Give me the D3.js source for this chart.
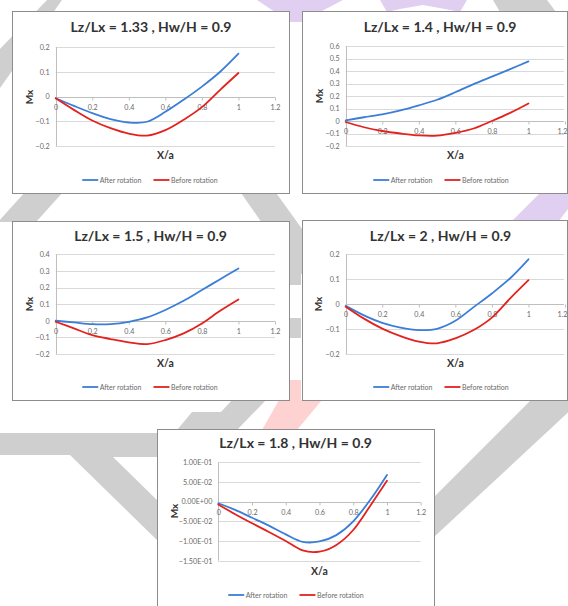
<!DOCTYPE html>
<html>
<head>
<meta charset="utf-8">
<script src="https://cdn.jsdelivr.net/npm/d3@7"></script>
<style>
  html, body { margin: 0; padding: 0; background: #ffffff; }
  svg { display: block; }
  text { font-family: "Lato", "Open Sans", sans-serif; }
</style>
</head>
<body>
<svg id="fig" width="568" height="606"></svg>
<script>
// ---- data -------------------------------------------------------------
const X_POS = [0, 0.1, 0.2, 0.3, 0.4, 0.5, 0.6, 0.7, 0.8, 0.9, 1.0];
const X_TICKS = [0, 0.2, 0.4, 0.6, 0.8, 1, 1.2];
const SERIES_NAMES = ["After rotation", "Before rotation"];

const TITLES = [
  "Lz/Lx = 1.33 , Hw/H = 0.9",
  "Lz/Lx = 1.4 , Hw/H = 0.9",
  "Lz/Lx = 1.5 , Hw/H = 0.9",
  "Lz/Lx = 2 , Hw/H = 0.9",
  "Lz/Lx = 1.8 , Hw/H = 0.9"
];

const AFTER_133  = [-0.007, -0.038, -0.067, -0.091, -0.105, -0.102, -0.062, -0.013, 0.040, 0.100, 0.173];
const BEFORE_133 = [-0.007, -0.054, -0.097, -0.128, -0.150, -0.158, -0.136, -0.094, -0.043, 0.027, 0.095];

const AFTER_14   = [0.005, 0.030, 0.053, 0.085, 0.125, 0.170, 0.230, 0.295, 0.355, 0.415, 0.477];
const BEFORE_14  = [-0.008, -0.050, -0.080, -0.100, -0.115, -0.117, -0.095, -0.060, 0.000, 0.065, 0.140];

const AFTER_15   = [0.000, -0.010, -0.020, -0.020, -0.006, 0.020, 0.065, 0.120, 0.185, 0.250, 0.315];
const BEFORE_15  = [-0.006, -0.046, -0.086, -0.110, -0.130, -0.140, -0.116, -0.076, -0.016, 0.060, 0.128];

const AFTER_2    = [-0.007, -0.045, -0.075, -0.094, -0.104, -0.099, -0.067, -0.012, 0.043, 0.104, 0.180];
const BEFORE_2   = [-0.010, -0.058, -0.098, -0.128, -0.150, -0.157, -0.137, -0.104, -0.054, 0.023, 0.096];

const AFTER_18   = [-0.004, -0.021, -0.041, -0.061, -0.083, -0.102, -0.101, -0.085, -0.050, 0.004, 0.068];
const BEFORE_18  = [-0.007, -0.032, -0.055, -0.077, -0.100, -0.124, -0.127, -0.110, -0.072, -0.011, 0.053];

const Y_TICKS_133 = [-0.2, -0.1, 0, 0.1, 0.2];
const Y_TICKS_14  = [-0.2, -0.1, 0, 0.1, 0.2, 0.3, 0.4, 0.5, 0.6];
const Y_TICKS_15  = [-0.2, -0.1, 0, 0.1, 0.2, 0.3, 0.4];
const Y_TICKS_2   = [-0.2, -0.1, 0, 0.1, 0.2];
const Y_TICKS_18  = [-0.15, -0.10, -0.05, 0, 0.05, 0.10];

// ---- styles -----------------------------------------------------------
const COLORS = ["#3a7ed8", "#e3221d"];
const GRID = "#d9d9d9";
const AXIS = "#bfbfbf";
const TICK_TXT = "#6a6a6a";
const TITLE_TXT = "#333333";
const W = 568;

const svg = d3.select("#fig");

// ---- background decoration (light diagonal bands) ---------------------
const deco = svg.append("g");
const grayBands = [
  [[0,49],[47,0],[62,0],[0,88]],
  [[-2,222],[36,222],[64,191],[26,191]],
  [[239,190],[274,190],[310,240],[310,282],[289,262]],
  [[289,262],[301,262],[301,285],[289,285]],
  [[289,318],[301,318],[301,338],[289,338]],
  [[232,400],[266,400],[237,430],[177,430],[192,412],[221,412]],
  [[0,433],[160,433],[160,457],[113,457],[160,503],[160,543],[70,455],[0,455]],
  [[434,497],[540,391],[575,391],[575,406],[434,537]],
  [[493,0],[547,0],[556,12],[500,12]]
];
const purpleBands = [
  [[511,222],[558,222],[575,200],[575,190],[543,190]],
  [[257,0],[343,0],[320,12],[302,12],[302,22],[289,22],[289,12],[275,12]],
  [[380,0],[467,0],[460,12],[445,9],[423,5],[400,9],[387,12]]
];
const pinkBands = [
  [[279,400],[322,400],[297,430],[262,430]],
  [[289,380],[301,380],[301,400],[289,400]]
];
const line = d3.line();
deco.selectAll(".g").data(grayBands).join("path")
  .attr("d", d => line(d) + "Z").attr("fill", "#cfcfcf");
deco.selectAll(".p").data(purpleBands).join("path")
  .attr("d", d => line(d) + "Z").attr("fill", "#e0cff0");
deco.selectAll(".k").data(pinkBands).join("path")
  .attr("d", d => line(d) + "Z").attr("fill", "#ffd2d2");

// ---- panel layout -----------------------------------------------------
const panels = [
  { title: TITLES[0], series: [AFTER_133, BEFORE_133], yTicks: Y_TICKS_133, fmt: d3.format(""),
    box: [12, 11, 277, 182], plot: [55.7, 47, 275, 146], titleY: 32, titleX: 151,
    mx: [29, 97], xa: 159, legY: 180, legX: 150 },
  { title: TITLES[1], series: [AFTER_14, BEFORE_14], yTicks: Y_TICKS_14, fmt: d3.format(""),
    box: [302, 11, 265, 182], plot: [345.7, 46, 565, 146], titleY: 32, titleX: 440,
    mx: [319, 96], xa: 159, legY: 180, legX: 441 },
  { title: TITLES[2], series: [AFTER_15, BEFORE_15], yTicks: Y_TICKS_15, fmt: d3.format(""),
    box: [12, 221, 277, 179], plot: [55.7, 254.3, 275, 354], titleY: 241, titleX: 150.5,
    mx: [29, 304], xa: 367, legY: 387, legX: 150 },
  { title: TITLES[3], series: [AFTER_2, BEFORE_2], yTicks: Y_TICKS_2, fmt: d3.format(""),
    box: [302, 220, 265, 180], plot: [345.7, 254.3, 565, 354], titleY: 241, titleX: 440.5,
    mx: [318, 304], xa: 367, legY: 387, legX: 441 },
  { title: TITLES[4], series: [AFTER_18, BEFORE_18], yTicks: Y_TICKS_18,
    fmt: v => (v === 0 ? "0.00E+00" : d3.format(".2e")(v).replace(/e([+-])(\d)$/, "E$10$2").toUpperCase()),
    box: [157, 429, 277, 190], plot: [218.3, 462.3, 420.7, 560.7], titleY: 448, titleX: 295.5,
    mx: [174, 511], xa: 575, legY: 595, legX: 296 }
];

panels.forEach(p => {
  const g = svg.append("g");
  const [bx, by, bw, bh] = p.box;
  g.append("rect").attr("x", bx + 0.5).attr("y", by + 0.5).attr("width", bw).attr("height", bh)
    .attr("fill", "#ffffff").attr("stroke", "#8c8c8c").attr("stroke-width", 1);

  const [pl, pt, pr, pb] = p.plot;
  const x = d3.scaleLinear().domain([0, 1.2]).range([pl, pr]);
  const yExt = d3.extent(p.yTicks);
  const y = d3.scaleLinear().domain(yExt).range([pb, pt]);

  // horizontal gridlines
  g.append("g").selectAll("line").data(p.yTicks).join("line")
    .attr("x1", pl).attr("x2", Math.min(pr, W - 4))
    .attr("y1", d => Math.round(y(d)) + 0.5).attr("y2", d => Math.round(y(d)) + 0.5)
    .attr("stroke", GRID).attr("stroke-width", 1);

  // vertical axis line
  g.append("line").attr("x1", Math.round(pl) + 0.5).attr("x2", Math.round(pl) + 0.5)
    .attr("y1", pt).attr("y2", pb).attr("stroke", AXIS);

  // y tick labels
  const yAxis = d3.axisLeft(y).tickValues(p.yTicks).tickFormat(p.fmt).tickSize(0).tickPadding(6);
  const ya = g.append("g").attr("transform", `translate(${pl},0)`).call(yAxis);
  ya.select(".domain").remove();
  ya.selectAll("text").attr("fill", TICK_TXT).attr("font-size", 7.2)
    .attr("font-family", "Lato, 'Open Sans', sans-serif");

  // horizontal axis crossing at zero
  const y0 = Math.round(y(0)) + 0.5;
  g.append("line").attr("x1", pl).attr("x2", Math.min(pr, W - 4)).attr("y1", y0).attr("y2", y0)
    .attr("stroke", AXIS);
  const xAxis = d3.axisBottom(x).tickValues(X_TICKS).tickFormat(d3.format("")).tickSize(3).tickPadding(4);
  const xa = g.append("g").attr("transform", `translate(0,${y0})`).call(xAxis);
  xa.select(".domain").remove();
  xa.selectAll("line").attr("stroke", AXIS);
  xa.selectAll("text").attr("fill", TICK_TXT).attr("font-size", 7.2)
    .attr("font-family", "Lato, 'Open Sans', sans-serif");
  // keep the last label inside the page edge
  xa.selectAll(".tick").each(function (d) {
    if (x(d) + 6 > W) d3.select(this).select("text").attr("text-anchor", "end").attr("dx", W - 1 - x(d));
  });

  // series lines
  const curve = d3.line()
    .x((d, i) => x(X_POS[i]))
    .y(d => y(d))
    .curve(d3.curveCatmullRom.alpha(0));
  p.series.forEach((vals, k) => {
    g.append("path").datum(vals).attr("d", curve)
      .attr("fill", "none").attr("stroke", COLORS[k]).attr("stroke-width", 1.8)
      .attr("stroke-linejoin", "round").attr("stroke-linecap", "round");
  });

  // title
  g.append("text").attr("x", p.titleX).attr("y", p.titleY).attr("text-anchor", "middle")
    .attr("font-size", 14).attr("font-weight", "bold").attr("fill", TITLE_TXT).text(p.title);

  // axis titles
  g.append("text").attr("transform", `translate(${p.mx[0] + 3.5},${p.mx[1]}) rotate(-90)`)
    .attr("text-anchor", "middle").attr("font-size", 10).attr("font-weight", "bold")
    .attr("fill", TITLE_TXT).text("Mx");
  g.append("text").attr("x", (pl + pr) / 2).attr("y", p.xa).attr("text-anchor", "middle")
    .attr("font-size", 10.5).attr("font-weight", "bold").attr("fill", TITLE_TXT).text("X/a");

  // legend
  const leg = g.append("g");
  const items = SERIES_NAMES.map((name, k) => {
    const it = leg.append("g");
    it.append("line").attr("x1", 0).attr("x2", 16).attr("y1", 0).attr("y2", 0)
      .attr("stroke", COLORS[k]).attr("stroke-width", 1.8);
    const t = it.append("text").attr("x", 17.5).attr("y", 2.5).attr("font-size", 7)
      .attr("fill", TICK_TXT).text(name);
    return { it, w: 17.5 + t.node().getComputedTextLength() };
  });
  const gap = 12;
  const total = items[0].w + gap + items[1].w;
  let cx = p.legX - total / 2;
  items.forEach(o => {
    o.it.attr("transform", `translate(${cx},${p.legY})`);
    cx += o.w + gap;
  });
});
</script>
</body>
</html>
